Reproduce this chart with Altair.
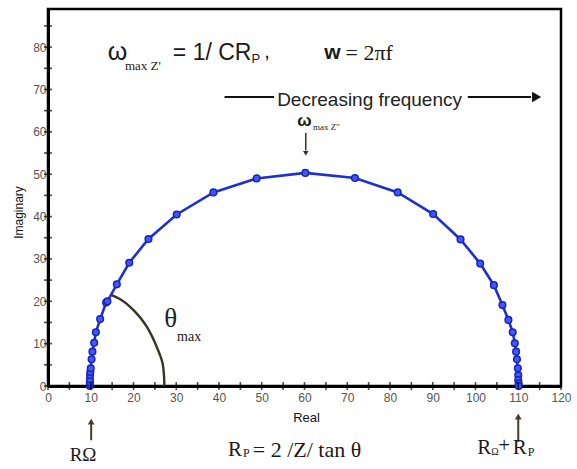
import altair as alt
import pandas as pd

# ---------------- data ----------------
real = [9.8, 9.8, 9.8, 9.8, 9.85, 9.9, 10.0, 10.2, 10.4, 10.8, 11.2, 12.2, 13.6, 13.9,
        16.1, 19.0, 23.5, 30.1, 38.7, 48.8, 60.2, 71.8, 81.8, 90.1, 96.5, 101.1, 104.3,
        106.3, 107.7, 108.7, 109.2, 109.5, 109.7, 109.9, 110.0, 110.0, 110.1, 110.1]
imag = [0.0, 0.4, 0.9, 1.6, 2.6, 3.3, 4.2, 6.3, 8.1, 10.2, 12.7, 15.8, 19.7, 20.0,
        24.0, 29.1, 34.7, 40.5, 45.7, 49.0, 50.3, 49.1, 45.7, 40.6, 34.6, 28.9, 23.8,
        19.1, 15.6, 12.7, 10.1, 8.1, 6.3, 4.2, 2.6, 1.4, 0.6, 0.0]

arc_x = [14.7, 17.0, 19.2, 21.3, 23.1, 24.4, 25.4, 26.2, 26.8, 27.1, 27.2, 27.2]
arc_y = [21.5, 20.4, 18.7, 16.5, 14.0, 11.6, 9.3, 7.3, 5.4, 3.0, 1.0, 0.0]

x_labels = [0, 10, 20, 30, 40, 50, 60, 70, 80, 90, 100, 110, 120]
y_labels = [0, 10, 20, 30, 40, 50, 60, 70, 80]
x_ticks = [0, 5, 10, 15, 20, 25, 30, 35, 40, 45, 50, 55, 60, 65, 70, 75, 80, 85, 90,
           95, 100, 105, 110, 115, 120]
y_ticks = [0, 5, 10, 15, 20, 25, 30, 35, 40, 45, 50, 55, 60, 65, 70, 75, 80, 85]

# ---------------- layout / style ----------------
W, H = 513, 377
LINE = "#1f2ed6"
FILL = "#4456f4"
EDGE = "#1424bc"
BROWN = "#4a3a28"
SANS = "Liberation Sans"
SERIF = "Liberation Serif"

XS = alt.Scale(domain=[0, 120], nice=False, zero=False)
YS = alt.Scale(domain=[0, 89], nice=False, zero=False)

XAXIS = alt.Axis(values=x_labels, ticks=False, grid=False, domainColor="black",
                 domainWidth=3, labelColor="#555", labelFontSize=12, labelFont=SANS,
                 labelPadding=6, labelFlush=False, titleFont=SANS, titleFontSize=13,
                 titleFontWeight="normal", titleColor="#111", titleX=258, titleY=31,
                 titleBaseline="middle")
YAXIS = alt.Axis(values=y_labels, ticks=False, grid=False, domainColor="black",
                 domainWidth=3, labelColor="#555", labelFontSize=12, labelFont=SANS,
                 labelPadding=2, labelFlush=False, titleFont=SANS, titleFontSize=12,
                 titleFontWeight="normal", titleColor="#111", titleX=-30, titleY=203,
                 titleAngle=270, titleAlign="center", titleBaseline="middle")


def xy(xf="x", yf="y"):
    return dict(x=alt.X(f"{xf}:Q", scale=XS, axis=XAXIS, title="Real"),
                y=alt.Y(f"{yf}:Q", scale=YS, axis=YAXIS, title="Imaginary"))


df = pd.DataFrame({"x": real, "y": imag, "order": list(range(len(real)))})
arc_df = pd.DataFrame({"x": arc_x, "y": arc_y, "order": list(range(len(arc_x)))})

line = alt.Chart(df).mark_line(color=LINE, strokeWidth=2.6).encode(
    order="order:Q", **xy())
pts = alt.Chart(df).mark_point(filled=True, size=44, fill=FILL, stroke=EDGE,
                               strokeWidth=1.5, opacity=1).encode(**xy())
arc = alt.Chart(arc_df).mark_line(color="#3b3322", strokeWidth=2.4,
                                  interpolate="cardinal").encode(order="order:Q", **xy())

xt = alt.Chart(pd.DataFrame({"x": x_ticks})).mark_tick(
    orient="vertical", size=8, thickness=1.6, color="black").encode(
    x=alt.X("x:Q", scale=XS, axis=XAXIS, title="Real"), y=alt.value(H))
yt = alt.Chart(pd.DataFrame({"y": y_ticks})).mark_tick(
    orient="horizontal", size=8, thickness=1.6, color="black").encode(
    y=alt.Y("y:Q", scale=YS, axis=YAXIS, title="Imaginary"), x=alt.value(0))


def text(t, x, y, size, font=SANS, weight="normal", color="#1a1a1a", align="left"):
    return alt.Chart(pd.DataFrame({"x": [x], "y": [y], "t": [t]})).mark_text(
        font=font, fontSize=size, fontWeight=weight, color=color, align=align,
        baseline="middle").encode(text="t:N", **xy())


def hrule(x1, x2, y, color="#111", width=2):
    return alt.Chart(pd.DataFrame({"x": [x1], "x2": [x2], "y": [y]})).mark_rule(
        color=color, strokeWidth=width).encode(x2="x2:Q", **xy())


def vrule(x, y1, y2, color=BROWN, width=2):
    return alt.Chart(pd.DataFrame({"x": [x], "y": [y1], "y2": [y2]})).mark_rule(
        color=color, strokeWidth=width).encode(y2="y2:Q", **xy())


def head(x, y, shape, size, color):
    return alt.Chart(pd.DataFrame({"x": [x], "y": [y]})).mark_point(
        shape=shape, filled=True, size=size, color=color, opacity=1).encode(**xy())


ann = [
    # top formula
    text("ω", 14.0, 78.8, 25),
    text("max Z'", 18.0, 75.6, 13, font=SERIF),
    text("= 1/ CR", 29.2, 78.5, 23),
    text("P", 47.6, 77.2, 13),
    text(",", 50.6, 78.9, 20),
    text("w", 64.6, 78.6, 21, weight="bold"),
    text("= 2πf", 69.6, 78.6, 22, font=SERIF),
    # decreasing frequency arrow
    hrule(41.3, 52.9, 68.2),
    hrule(98.2, 113.0, 68.2),
    head(114.3, 68.2, "triangle-right", 110, "#111"),
    text("Decreasing frequency", 53.6, 67.4, 19, color="#222"),
    # omega max label near peak
    text("ω", 58.3, 62.5, 17, weight="bold"),
    text("max Z''", 62.0, 61.2, 9, font=SERIF),
    vrule(60.3, 59.7, 55.6, color="#3a2f22", width=1.5),
    head(60.3, 54.9, "triangle-down", 30, "#3a2f22"),
    # theta max
    text("θ", 27.2, 15.8, 27, font=SERIF, color="#222"),
    text("max", 30.2, 11.6, 14, font=SERIF, color="#222"),
    # below axis
    vrule(10.1, -12.8, -9.0),
    head(10.1, -8.4, "triangle-up", 45, BROWN),
    text("RΩ", 8.2, -16.3, 19, font=SERIF, align="center"),
    text("R", 42.1, -15.2, 21, font=SERIF),
    text("P", 45.6, -15.9, 12, font=SERIF),
    text("= 2 /Z/ tan θ", 47.9, -15.2, 22, font=SERIF),
    vrule(110.0, -13.2, -7.8),
    head(110.0, -7.2, "triangle-up", 45, BROWN),
    text("R", 100.4, -14.6, 21, font=SERIF),
    text("Ω", 103.7, -15.6, 10, font=SERIF),
    text("+", 105.3, -14.2, 21, font=SERIF),
    text("R", 108.7, -14.6, 21, font=SERIF),
    text("P", 112.2, -15.6, 12, font=SERIF),
]

chart = alt.layer(arc, line, pts, xt, yt, *ann).properties(
    width=W, height=H,
    autosize=alt.AutoSizeParams(type="none"),
    padding={"left": 48, "top": 9, "right": 16, "bottom": 83},
    background="white",
).configure_view(stroke="black", strokeWidth=2.5)

chart.save("out.html", embed_options={"renderer": "svg", "actions": False})
